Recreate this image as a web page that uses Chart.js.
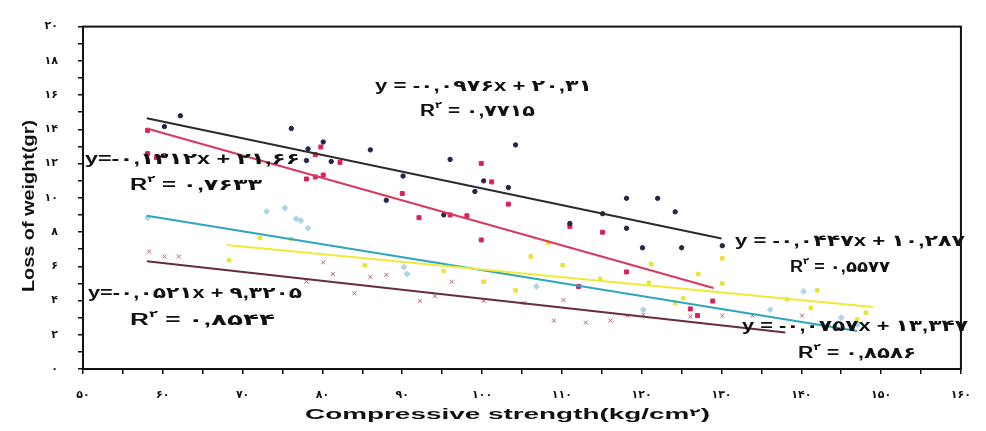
<!DOCTYPE html>
<html>
<head>
<meta charset="utf-8">
<script src="https://cdn.jsdelivr.net/npm/chart.js@4"></script>
<style>
  html, body { margin: 0; padding: 0; background: #fff; }
  #wrap { width: 986px; height: 431px; }
</style>
</head>
<body>
<div id="wrap"><canvas id="c"></canvas></div>
<script>
// ---- data ----
const xTickLabels = ['۵۰', '۶۰', '۷۰', '۸۰', '۹۰', '۱۰۰', '۱۱۰', '۱۲۰', '۱۳۰', '۱۴۰', '۱۵۰', '۱۶۰'];
const yTickLabels = ['۰', '۲', '۴', '۶', '۸', '۱۰', '۱۲', '۱۴', '۱۶', '۱۸', '۲۰'];

const navyX = [60.2, 62.2, 76.1, 78.0, 78.2, 80.1, 81.1, 86.0, 88.0, 90.1, 95.2, 96.0, 99.1, 100.2, 103.3, 104.2, 111.0, 115.1, 118.1, 118.1, 120.1, 122.0, 124.2, 125.0, 130.1];
const navyY = [14.16, 14.79, 14.05, 12.18, 12.86, 13.26, 12.12, 12.8, 9.86, 11.27, 9.0, 12.24, 10.37, 10.99, 10.6, 13.09, 8.5, 9.07, 9.97, 8.22, 7.08, 9.97, 9.18, 7.08, 7.2];

const redX = [58.1, 58.1, 59.2, 60.2, 79.1, 79.8, 82.2, 78.0, 79.1, 80.1, 90.0, 92.1, 96.0, 98.1, 99.9, 101.2, 103.3, 99.9, 111.0, 115.1, 112.1, 118.1, 126.1, 127.0, 128.9];
const redY = [13.94, 12.58, 12.35, 12.46, 12.52, 12.97, 12.07, 11.1, 11.22, 11.33, 10.25, 8.84, 9.0, 8.95, 12.01, 10.93, 9.63, 7.54, 8.33, 7.99, 4.82, 5.67, 3.51, 3.12, 3.97];

const yellowX = [68.3, 72.2, 76.1, 85.3, 95.2, 100.2, 104.2, 106.1, 108.3, 110.1, 114.8, 121.2, 120.9, 124.2, 125.2, 127.1, 130.1, 130.1, 138.2, 142.0, 141.2, 147.0, 148.1];
const yellowY = [6.35, 7.65, 7.59, 6.06, 5.72, 5.1, 4.59, 6.57, 7.37, 6.06, 5.27, 6.12, 5.04, 3.85, 4.14, 5.55, 6.46, 4.99, 4.08, 4.59, 3.57, 2.89, 3.29];

const cyanX = [58.1, 73.0, 75.3, 76.7, 77.3, 78.2, 90.2, 90.6, 106.8, 120.2, 136.1, 140.3, 145.0, 147.1];
const cyanY = [8.84, 9.2, 9.4, 8.78, 8.67, 8.22, 5.95, 5.55, 4.82, 3.46, 3.46, 4.53, 3.0, 2.6];

const brownX = [58.3, 60.2, 62.0, 80.1, 81.3, 78.0, 86.0, 88.0, 84.0, 92.2, 94.1, 96.2, 100.2, 105.3, 110.2, 109.0, 113.0, 116.1, 118.2, 120.2, 126.1, 130.1, 133.9, 140.1];
const brownY = [6.86, 6.57, 6.57, 6.23, 5.55, 5.1, 5.38, 5.5, 4.42, 3.97, 4.25, 5.1, 3.97, 3.85, 4.02, 2.83, 2.72, 2.83, 3.12, 3.17, 3.06, 3.12, 3.12, 3.12];

// fitted trend lines (slope, intercept, x range) as printed on the chart
const trendSlope = [-0.0976, -0.1312, -0.0447, -0.0757, -0.0521];
const trendIntercept = [20.31, 21.66, 10.287, 13.347, 9.3205];
const trendFrom = [58, 58, 68, 58, 58];
const trendTo = [130, 129, 149, 147, 138];

const eqTexts = ['y = -۰,۰۹۷۶x + ۲۰,۳۱', 'y=-۰,۱۳۱۲x + ۲۱,۶۶', 'y = -۰,۰۴۴۷x + ۱۰,۲۸۷', 'y = -۰,۰۷۵۷x + ۱۳,۳۴۷', 'y=-۰,۰۵۲۱x + ۹,۳۲۰۵'];
const r2Texts = [' = ۰,۷۷۱۵', ' = ۰,۷۶۳۳', ' = ۰,۵۵۷۷', ' = ۰,۸۵۸۶', ' = ۰,۸۵۴۴'];

// ---- label layout (pixels: left, middle, width) ----
const eqBox = [[375, 87, 217], [85, 160, 215], [735, 242, 230], [742, 327, 226], [88, 294, 214]];
const r2Box = [[420, 112, 115], [130, 186, 132], [790, 268, 100], [798, 354, 118], [130, 321, 145]];

const FONT = '"Liberation Sans", "DejaVu Sans", sans-serif';

function zip(xs, ys) { return xs.map((x, i) => ({ x: x, y: ys[i] })); }
function trend(i) {
  const a = trendFrom[i], b = trendTo[i];
  return [{ x: a, y: trendSlope[i] * a + trendIntercept[i] }, { x: b, y: trendSlope[i] * b + trendIntercept[i] }];
}

function drawFit(ctx, segs, x, y, w) {
  let total = 0;
  segs.forEach(s => { ctx.font = 'bold ' + s[1] + 'px ' + FONT; total += ctx.measureText(s[0]).width; });
  const k = w / total;
  ctx.save();
  ctx.translate(x, y);
  ctx.scale(k, 1);
  let cx = 0;
  segs.forEach(s => {
    ctx.font = 'bold ' + s[1] + 'px ' + FONT;
    ctx.fillText(s[0], cx, s[2]);
    cx += ctx.measureText(s[0]).width;
  });
  ctx.restore();
}

const decor = {
  id: 'decor',
  afterDraw(chart) {
    const ctx = chart.ctx, a = chart.chartArea;
    ctx.save();
    ctx.strokeStyle = '#111';
    ctx.lineWidth = 2;
    ctx.strokeRect(a.left, a.top, a.right - a.left, a.bottom - a.top);
    ctx.fillStyle = '#111';
    ctx.textBaseline = 'middle';
    ctx.textAlign = 'left';
    for (let i = 0; i < eqTexts.length; i++) {
      drawFit(ctx, [[eqTexts[i], 16, 0]], eqBox[i][0], eqBox[i][1], eqBox[i][2]);
      drawFit(ctx, [['R', 16, 0], ['۲', 9, -6], [r2Texts[i], 16, 0]], r2Box[i][0], r2Box[i][1], r2Box[i][2]);
    }
    // axis titles
    drawFit(ctx, [['Compressive strength(kg/cm', 15, 0], ['۲', 10, -2], [')', 15, 0]], 305, 415, 405);
    ctx.translate(30, 292);
    ctx.rotate(-Math.PI / 2);
    drawFit(ctx, [['Loss of weight(gr)', 16, 0]], 0, 0, 172);
    ctx.restore();
  }
};

const pt = (color, style, r) => ({ type: 'scatter', pointStyle: style, pointRadius: r, pointBackgroundColor: color, pointBorderColor: color, borderWidth: 1, showLine: false });
const ln = (color) => ({ type: 'line', borderColor: color, borderWidth: 2, pointRadius: 0, showLine: true, fill: false });

new Chart(document.getElementById('c'), {
  type: 'scatter',
  data: {
    datasets: [
      Object.assign(ln('#2b2b2b'), { data: trend(0) }),
      Object.assign(ln('#d63a5e'), { data: trend(1) }),
      Object.assign(ln('#f1e93a'), { data: trend(2) }),
      Object.assign(ln('#2ea5bf'), { data: trend(3) }),
      Object.assign(ln('#6b2b3e'), { data: trend(4) }),
      Object.assign(pt('#25254a', 'circle', 2.2), { data: zip(navyX, navyY) }),
      Object.assign(pt('#db2059', 'rect', 2.8), { data: zip(redX, redY) }),
      Object.assign(pt('#ebe23a', 'rect', 2.5), { data: zip(yellowX, yellowY) }),
      Object.assign(pt('#a9d6e6', 'rectRot', 3), { data: zip(cyanX, cyanY) }),
      Object.assign(pt('#b0607c', 'crossRot', 2.8), { data: zip(brownX, brownY) })
    ]
  },
  options: {
    responsive: true,
    maintainAspectRatio: false,
    animation: false,
    layout: { padding: { top: 15, right: 17, left: 0, bottom: 0 } },
    plugins: { legend: { display: false }, tooltip: { enabled: false } },
    scales: {
      x: {
        type: 'linear', min: 50, max: 160,
        afterFit: s => { s.height = 62; },
        border: { display: true, color: '#111', width: 2 },
        grid: { display: true, drawOnChartArea: false, drawTicks: true, tickLength: 5, color: '#111', lineWidth: 1.5 },
        ticks: {
          stepSize: 5, autoSkip: false, maxRotation: 0, padding: 15, color: '#111',
          font: { family: '"DejaVu Sans", sans-serif', size: 11, weight: 'bold' },
          callback: v => (v % 10 === 0 ? xTickLabels[(v - 50) / 10] : '')
        }
      },
      y: {
        type: 'linear', min: 0, max: 20,
        afterFit: s => { s.width = 83; },
        border: { display: true, color: '#111', width: 2 },
        grid: { display: true, drawOnChartArea: false, drawTicks: true, tickLength: 5, color: '#111', lineWidth: 1.5 },
        ticks: {
          stepSize: 1, autoSkip: false, padding: 20, color: '#111',
          font: { family: '"DejaVu Sans", sans-serif', size: 11, weight: 'bold' },
          callback: v => (v % 2 === 0 ? yTickLabels[v / 2] : '')
        }
      }
    }
  },
  plugins: [decor]
});
</script>
</body>
</html>
